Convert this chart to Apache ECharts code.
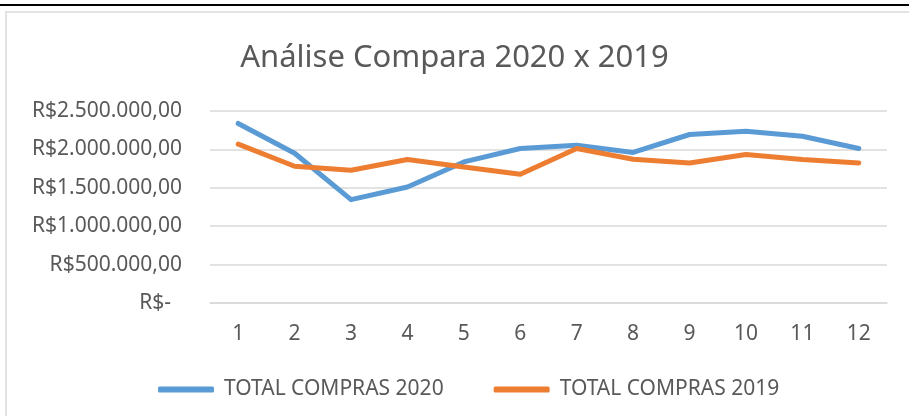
<!DOCTYPE html>
<html>
<head>
<meta charset="utf-8">
<script src="https://cdn.jsdelivr.net/npm/echarts@6/dist/echarts.min.js"></script>
<style>
    html, body { margin: 0; padding: 0; background: #fff; }
    #topBar { position: absolute; left: 0; top: 4px; width: 909px; height: 2px; background: #000; }
    #frame { position: absolute; left: 5px; top: 11px; width: 920px; height: 420px; border: 2px solid #e3e3e3; box-sizing: border-box; }
    #chart { position: absolute; left: 0; top: 0; width: 909px; height: 416px; }
</style>
</head>
<body>
<div id="topBar"></div>
<div id="frame"></div>
<div id="chart"></div>
<script>
    "use strict";

    // meses
    var months = ['1', '2', '3', '4', '5', '6', '7', '8', '9', '10', '11', '12'];
    // total compras 2020
    var compras2020 = [2338000, 1950000, 1346000, 1510000, 1837000, 2011000, 2054000, 1960000, 2194000, 2237000, 2172000, 2011000];
    // total compras 2019
    var compras2019 = [2068000, 1780000, 1728000, 1868000, 1770000, 1676000, 2011000, 1872000, 1824000, 1933000, 1868000, 1824000];

    var textColor = '#595959';
    var fontName = '"Noto Sans", sans-serif';

    // formato R$ contabil
    var formatReal = function (value) {
        if (value === 0) {
            return 'R$-  ';
        }
        var s = String(Math.round(value)).replace(/\B(?=(\d{3})+(?!\d))/g, '.');
        return 'R$' + s + ',00';
    };

    var myChart = echarts.init(document.getElementById('chart'), null, {renderer: 'canvas'});
    var option = {
        backgroundColor: 'transparent',
        animation: false,
        title: {
            text: 'Análise Compara 2020 x 2019',
            left: 'center',
            top: 38,
            textStyle: {
                fontFamily: fontName,
                fontSize: 31,
                fontWeight: 'normal',
                color: textColor
            }
        },
        grid: {
            left: 210,
            right: 22,
            top: 111,
            bottom: 113,
            containLabel: false
        },
        legend: {
            bottom: 11,
            left: 153,
            itemWidth: 56,
            itemHeight: 6,
            itemGap: 50,
            icon: 'roundRect',
            data: ['TOTAL COMPRAS 2020', 'TOTAL COMPRAS 2019'],
            textStyle: {
                fontFamily: fontName,
                fontSize: 21,
                color: textColor,
                padding: [0, 0, 0, 5]
            }
        },
        xAxis: {
            type: 'category',
            boundaryGap: true,
            data: months,
            axisLine: {show: true, lineStyle: {color: '#d9d9d9', width: 1.5}},
            axisTick: {show: false},
            axisLabel: {
                margin: 21,
                fontFamily: fontName,
                fontSize: 21,
                color: textColor
            }
        },
        yAxis: {
            type: 'value',
            min: 0,
            max: 2500000,
            interval: 500000,
            axisLine: {show: false},
            axisTick: {show: false},
            splitLine: {lineStyle: {color: '#d9d9d9', width: 1.5}},
            axisLabel: {
                margin: 28,
                fontFamily: fontName,
                fontSize: 21,
                color: textColor,
                formatter: formatReal
            }
        },
        series: [
            {
                name: 'TOTAL COMPRAS 2020',
                type: 'line',
                data: compras2020,
                showSymbol: false,
                symbol: 'none',
                lineStyle: {color: '#5b9bd5', width: 5, cap: 'round', join: 'round'},
                itemStyle: {color: '#5b9bd5'}
            },
            {
                name: 'TOTAL COMPRAS 2019',
                type: 'line',
                data: compras2019,
                showSymbol: false,
                symbol: 'none',
                lineStyle: {color: '#ed7d31', width: 5, cap: 'round', join: 'round'},
                itemStyle: {color: '#ed7d31'}
            }
        ]
    };
    myChart.setOption(option);
</script>
</body>
</html>
